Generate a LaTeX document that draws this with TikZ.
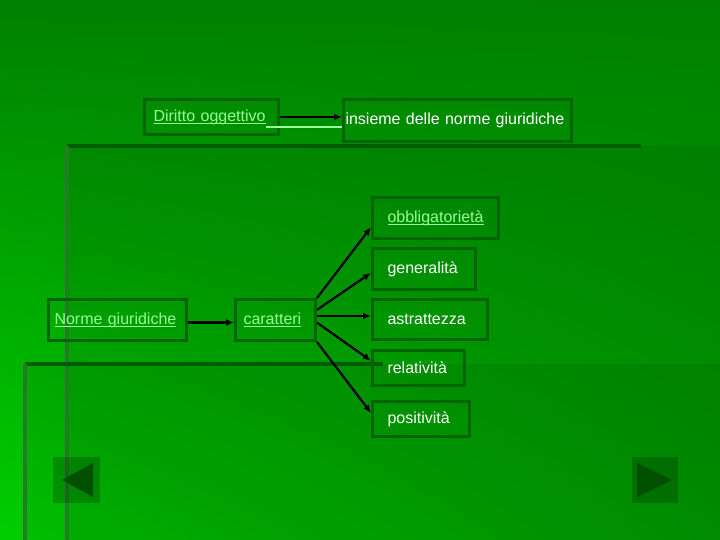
\documentclass[tikz,border=0pt]{standalone}
\usepackage{fontspec}
\setmainfont{Liberation Sans}
\usetikzlibrary{calc,positioning,arrows.meta,shadings}

\setlength{\parindent}{0pt}
\newlength{\ulen}
\newcommand{\ulink}[1]{\settowidth{\ulen}{#1}\rlap{\rule[-3pt]{\ulen}{1.5pt}}#1}

\definecolor{bgdark}{RGB}{0,128,0}
\definecolor{bglight}{RGB}{0,206,0}
\definecolor{bgright}{RGB}{0,162,0}
\definecolor{boxline}{RGB}{0,100,0}
\definecolor{ruledark}{RGB}{0,92,0}
\definecolor{rulegrey}{RGB}{38,124,38}
\definecolor{linkgreen}{RGB}{150,255,150}
\definecolor{btnarrow}{RGB}{0,80,0}

\tikzset{
  box/.style={draw=boxline, line width=3pt, inner xsep=0pt, inner ysep=0pt,
    text width=#1, align=left, anchor=north west, text=white},
  link/.style={text=linkgreen},
  arr/.style={draw=black, line width=2.2pt, -{Latex[length=8pt,width=7pt]}},
}

\begin{document}
\begin{tikzpicture}[x=1pt, y=-1pt, font=\fontsize{16}{19}\selectfont]
\useasboundingbox (0,0) rectangle (720,540);
% slide background
\shade[upper left=bgdark, upper right=bgdark, lower left=bglight, lower right=bgright]
  (0,0) rectangle (720,540);
\fill[black, opacity=0.07] (67,146) rectangle (720,540);
\fill[black, opacity=0.07] (25,364) rectangle (720,540);
\draw[ruledark, line width=4pt] (67,146) -- (641,146);
\draw[rulegrey, line width=4pt] (67,146) -- (67,540);
\draw[ruledark, line width=4pt] (25,364) -- (383,364);
\draw[rulegrey, line width=4pt] (25,364) -- (25,540);

% top row
\node[box=134pt, minimum height=35pt, link] (dir) at (143,98)
  {\hspace*{9pt}\ulink{Diritto oggettivo}};
\node[box=228pt, minimum height=42pt] (ins) at (342,98)
  {\hspace*{2pt}insieme delle norme giuridiche};
\draw[arr] (dir.east) -- (dir.east -| ins.west);
\draw[linkgreen, line width=1.5pt] ([xshift=-14pt, yshift=9pt]dir.south east)
  -- ([yshift=9pt]dir.south east -| ins.west);

% norme and caratteri
\node[box=138pt, minimum height=41pt, link] (nor) at (47,298)
  {\hspace*{6pt}\ulink{Norme giuridiche}};
\node[box=80pt, minimum height=41pt, link] (car) at (234,298)
  {\hspace*{8pt}\ulink{caratteri}};
\node[box=126pt, minimum height=41pt, link] (obb) at (371,196)
  {\hspace*{15pt}\ulink{obbligatorietà}};
\node[box=103pt, minimum height=41pt] (gen) at (371,247)
  {\hspace*{15pt}generalità};
\node[box=115pt, minimum height=40pt] (ast) at (371,298)
  {\hspace*{15pt}astrattezza};
\node[box=92pt, minimum height=35pt] (rel) at (371,349)
  {\hspace*{15pt}relatività};
\node[box=97pt, minimum height=35pt] (pos) at (371,400)
  {\hspace*{15pt}positività};

\draw[arr] ([yshift=-2.5pt]nor.east) -- ([yshift=-2.5pt]nor.east -| car.west);
\draw[arr] (car.north east) -- ($(obb.north west)!0.71!(obb.south west)$);
\draw[arr] ($(car.north east)!0.27!(car.south east)$)
  -- ($(gen.north west)!0.59!(gen.south west)$);
\coordinate (c3) at ($(car.north east)!0.41!(car.south east)$);
\draw[arr] (c3) -- (c3 -| ast.west);
\draw[arr] ($(car.north east)!0.56!(car.south east)$)
  -- ($(rel.north west)!0.31!(rel.south west)$);
\draw[arr] (car.south east) -- ($(pos.north west)!0.34!(pos.south west)$);

% navigation buttons
\fill[black, opacity=0.2] (53,457) rectangle (100,503);
\fill[btnarrow] (62,480) -- (93,463) -- (93,497) -- cycle;
\fill[black, opacity=0.2] (632,457) rectangle (678,503);
\fill[btnarrow] (637,463) -- (672,480) -- (637,497) -- cycle;
\end{tikzpicture}
\end{document}
